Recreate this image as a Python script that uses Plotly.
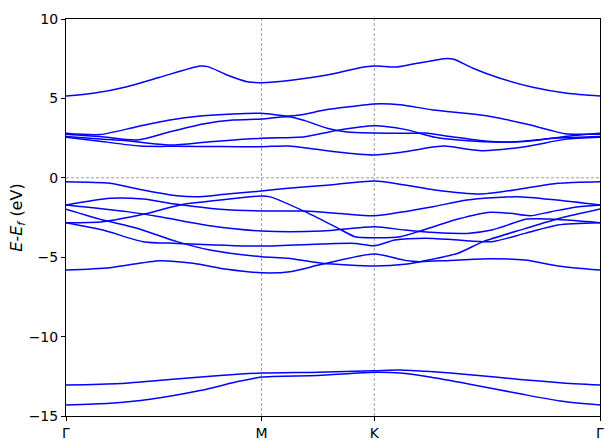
import plotly.graph_objects as go

# High-symmetry points (path distance) and labels
kpath_pos = [0.0, 0.5774, 0.9107, 1.5774]
kpath_labels = ["Γ", "M", "K", "Γ"]

yticks = [-15, -10, -5, 0, 5, 10]

# Bands: (k, E)
band_top_k = [0.0, 0.080, 0.180, 0.277, 0.396, 0.419, 0.476, 0.535, 0.5774, 0.671, 0.771, 0.868, 0.9107, 0.978, 1.037, 1.125, 1.146, 1.202, 1.282, 1.379, 1.480, 1.5774]
band_top_E = [5.15, 5.32, 5.74, 6.33, 7.04, 7.0, 6.47, 6.05, 5.99, 6.16, 6.47, 6.93, 7.04, 6.98, 7.21, 7.52, 7.46, 6.9, 6.27, 5.7, 5.32, 5.15]

band_c2_k = [0.0, 0.100, 0.210, 0.307, 0.396, 0.493, 0.5774, 0.656, 0.691, 0.771, 0.868, 0.9107, 0.987, 1.084, 1.208, 1.282, 1.356, 1.430, 1.474, 1.5774]
band_c2_E = [2.8, 2.72, 3.22, 3.64, 3.89, 4.02, 4.06, 3.89, 3.95, 4.3, 4.55, 4.65, 4.6, 4.27, 4.0, 3.75, 3.4, 3.0, 2.78, 2.75]

band_c3_k = [0.0, 0.100, 0.210, 0.307, 0.405, 0.493, 0.5774, 0.656, 0.706, 0.771, 0.825, 0.9107, 1.016, 1.061, 1.136, 1.223, 1.306, 1.385, 1.474, 1.5774]
band_c3_E = [2.75, 2.6, 2.38, 2.9, 3.39, 3.64, 3.70, 3.85, 3.6, 3.12, 2.9, 2.82, 2.8, 2.82, 2.6, 2.35, 2.25, 2.35, 2.6, 2.8]

band_b_k = [0.0, 0.100, 0.180, 0.307, 0.425, 0.5774, 0.706, 0.795, 0.9107, 1.001, 1.090, 1.158, 1.306, 1.453, 1.5774]
band_b_E = [2.6, 2.45, 2.34, 2.07, 2.27, 2.49, 2.59, 2.97, 3.28, 3.05, 2.55, 2.38, 2.24, 2.5, 2.6]

band_c_k = [0.0, 0.100, 0.219, 0.328, 0.455, 0.5774, 0.656, 0.721, 0.795, 0.9107, 0.987, 1.090, 1.119, 1.229, 1.356, 1.474, 1.5774]
band_c_E = [2.55, 2.3, 2.0, 1.98, 1.97, 1.96, 2.0, 1.85, 1.64, 1.44, 1.6, 1.95, 2.0, 1.71, 1.96, 2.42, 2.55]

band_v1_k = [0.0, 0.130, 0.228, 0.328, 0.396, 0.476, 0.5774, 0.656, 0.780, 0.9107, 1.001, 1.090, 1.229, 1.356, 1.453, 1.5774]
band_v1_E = [-0.25, -0.35, -0.77, -1.13, -1.19, -1.02, -0.83, -0.66, -0.45, -0.2, -0.45, -0.77, -1.02, -0.66, -0.35, -0.25]

band_x1_k = [0.0, 0.130, 0.228, 0.328, 0.455, 0.5774, 0.706, 0.809, 0.9107, 0.987, 1.084, 1.185, 1.332, 1.450, 1.5774]
band_x1_E = [-1.71, -1.29, -1.34, -1.67, -1.98, -2.09, -2.09, -2.25, -2.39, -2.17, -1.82, -1.4, -1.19, -1.4, -1.71]

band_vr_k = [0.0, 0.109, 0.228, 0.337, 0.455, 0.5774, 0.603, 0.706, 0.804, 0.854, 0.9107, 0.987, 1.046, 1.090, 1.158, 1.252, 1.312, 1.371, 1.430, 1.503, 1.5774]
band_vr_E = [-2.83, -2.76, -2.3, -1.71, -1.4, -1.15, -1.2, -2.13, -3.18, -3.71, -3.77, -3.71, -3.35, -3.05, -2.6, -2.17, -2.24, -2.39, -2.15, -1.85, -1.71]

band_a_k = [0.0, 0.180, 0.277, 0.425, 0.5774, 0.756, 0.9107, 1.001, 1.090, 1.185, 1.258, 1.362, 1.430, 1.5774]
band_a_E = [-1.71, -2.13, -2.45, -3.02, -3.35, -3.35, -3.08, -3.29, -3.45, -3.5, -3.29, -2.6, -2.6, -2.83]

band_f_k = [0.0, 0.109, 0.210, 0.328, 0.425, 0.5774, 0.656, 0.756, 0.9107, 1.001, 1.046, 1.158, 1.232, 1.356, 1.459, 1.5774]
band_f_E = [-1.98, -2.66, -3.18, -4.02, -4.55, -4.97, -5.07, -5.38, -5.55, -5.45, -5.28, -4.75, -4.02, -3.2, -2.55, -1.97]

band_g_k = [0.0, 0.109, 0.228, 0.328, 0.5774, 0.756, 0.854, 0.9107, 0.972, 1.061, 1.158, 1.258, 1.356, 1.453, 1.5774]
band_g_E = [-2.83, -3.29, -4.02, -4.13, -4.3, -4.17, -4.13, -4.28, -3.92, -3.8, -3.92, -4.02, -3.5, -2.97, -2.83]

band_l1_k = [0.0, 0.130, 0.277, 0.375, 0.476, 0.5774, 0.662, 0.756, 0.9107, 1.001, 1.046, 1.134, 1.252, 1.356, 1.453, 1.5774]
band_l1_E = [-5.81, -5.66, -5.22, -5.38, -5.76, -5.98, -5.91, -5.45, -4.8, -5.2, -5.28, -5.2, -5.1, -5.18, -5.55, -5.81]

band_d1_k = [0.0, 0.160, 0.307, 0.455, 0.5774, 0.744, 0.9107, 0.987, 1.075, 1.193, 1.341, 1.459, 1.5774]
band_d1_E = [-13.05, -12.95, -12.7, -12.45, -12.3, -12.25, -12.15, -12.1, -12.2, -12.4, -12.7, -12.9, -13.05]

band_d2_k = [0.0, 0.130, 0.248, 0.396, 0.514, 0.5774, 0.744, 0.9107, 0.987, 1.075, 1.193, 1.341, 1.459, 1.5774]
band_d2_E = [-14.3, -14.2, -13.95, -13.4, -12.8, -12.55, -12.45, -12.25, -12.3, -12.55, -13.0, -13.6, -14.05, -14.3]

bands = [
    (band_top_k, band_top_E), (band_c2_k, band_c2_E), (band_c3_k, band_c3_E),
    (band_b_k, band_b_E), (band_c_k, band_c_E), (band_v1_k, band_v1_E),
    (band_x1_k, band_x1_E), (band_vr_k, band_vr_E), (band_a_k, band_a_E),
    (band_f_k, band_f_E), (band_g_k, band_g_E), (band_l1_k, band_l1_E),
    (band_d1_k, band_d1_E), (band_d2_k, band_d2_E),
]

fig = go.Figure()
for k, e in bands:
    fig.add_trace(go.Scatter(x=k, y=e, mode="lines",
                             line=dict(color="#0000ff", width=1.5, shape="spline", smoothing=0.7),
                             showlegend=False, hoverinfo="skip"))

for xv in kpath_pos[1:-1]:
    fig.add_vline(x=xv, line=dict(color="#888888", width=0.8, dash="3px,2px"), layer="below")
fig.add_hline(y=0, line=dict(color="#888888", width=0.8, dash="3px,2px"), layer="below")

font_family = "DejaVu Sans"
fig.update_layout(
    width=611, height=448,
    margin=dict(l=66, r=11, t=19, b=32),
    paper_bgcolor="white", plot_bgcolor="white",
    font=dict(family=font_family, size=14, color="black"),
    xaxis=dict(range=[kpath_pos[0], kpath_pos[-1]], tickvals=kpath_pos, ticktext=kpath_labels,
               showgrid=False, zeroline=False, showline=True, linecolor="black", linewidth=1,
               mirror=True, ticks="outside", ticklen=4, tickwidth=1, tickcolor="black",
               tickfont=dict(size=14), automargin=False),
    yaxis=dict(range=[-15, 10], tickvals=yticks, showgrid=False, zeroline=False,
               showline=True, linecolor="black", linewidth=1, mirror=True,
               ticks="outside", ticklen=4, tickwidth=1, tickcolor="black",
               tickfont=dict(size=14), automargin=False,
               title=dict(text="<i>E</i>-<i>E</i><sub><i>f</i></sub> (eV)", font=dict(size=16), standoff=2)),
)

fig.write_html("out.html", config={"displayModeBar": False},
               post_script="document.body.style.margin='0';document.body.style.overflow='hidden';")
